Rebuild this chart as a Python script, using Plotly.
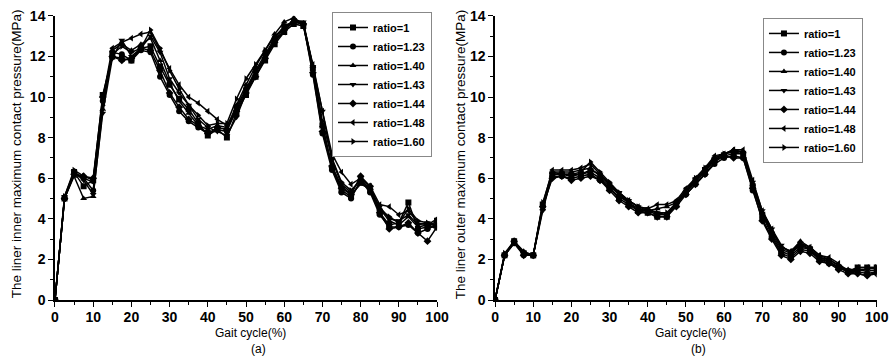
import plotly.graph_objects as go

gait = [0, 2.5, 5, 7.5, 10, 12.5, 15, 17.5, 20, 22.5, 25, 27.5, 30, 32.5, 35, 37.5, 40,
        42.5, 45, 47.5, 50, 52.5, 55, 57.5, 60, 62.5, 65, 67.5, 70, 72.5, 75, 77.5, 80,
        82.5, 85, 87.5, 90, 92.5, 95, 97.5, 100]

names = ["ratio=1", "ratio=1.23", "ratio=1.40", "ratio=1.43", "ratio=1.44", "ratio=1.48", "ratio=1.60"]
symbols = ["square", "circle", "triangle-up", "triangle-down", "diamond", "triangle-left", "triangle-right"]

inner_1 = [0, 5.0, 6.3, 5.6, 5.9, 10.1, 12.0, 11.9, 11.8, 12.4, 12.5, 11.5, 10.6, 9.9, 9.4, 8.7, 8.1, 8.4, 8.0, 9.2, 10.1, 11.0, 11.8, 12.6, 13.2, 13.6, 13.5, 11.4, 8.6, 6.5, 5.4, 5.1, 5.8, 5.4, 4.3, 3.7, 3.8, 4.8, 3.5, 3.6, 3.9]
inner_123 = [0, 5.0, 6.2, 6.0, 5.4, 9.8, 12.2, 12.1, 11.8, 12.3, 12.2, 11.0, 10.1, 9.3, 8.8, 8.5, 8.2, 8.4, 8.3, 9.5, 10.4, 11.3, 12.1, 12.9, 13.5, 13.7, 13.6, 11.1, 8.2, 6.4, 5.3, 5.0, 5.9, 5.3, 4.2, 3.6, 3.6, 3.7, 3.3, 3.5, 3.7]
inner_140 = [0, 5.0, 6.1, 5.0, 5.1, 9.4, 12.3, 12.6, 12.3, 12.6, 12.9, 11.8, 10.7, 9.8, 9.2, 8.6, 8.4, 8.6, 8.5, 9.6, 10.6, 11.5, 12.3, 13.1, 13.7, 13.9, 13.6, 11.5, 8.6, 6.6, 5.6, 5.2, 5.7, 5.5, 4.5, 3.9, 3.7, 4.1, 3.6, 3.7, 3.5]
inner_143 = [0, 5.1, 6.3, 5.9, 5.2, 9.2, 11.9, 12.8, 12.0, 12.4, 13.0, 12.2, 10.9, 10.2, 9.6, 8.9, 8.5, 8.3, 8.1, 9.0, 10.2, 11.2, 11.9, 12.8, 13.4, 13.8, 13.7, 11.5, 9.3, 6.9, 5.7, 5.3, 6.0, 5.4, 4.6, 4.0, 3.9, 4.2, 3.7, 3.8, 3.6]
inner_144 = [0, 5.0, 6.2, 6.1, 6.0, 10.0, 12.0, 11.8, 11.9, 12.4, 12.3, 11.3, 10.2, 9.5, 8.9, 8.6, 8.2, 8.5, 8.4, 9.3, 10.2, 11.0, 11.9, 12.7, 13.3, 13.7, 13.6, 11.2, 8.3, 6.6, 5.5, 5.2, 6.1, 5.6, 4.3, 3.5, 3.6, 3.8, 3.3, 2.9, 3.6]
inner_148 = [0, 5.0, 6.3, 6.0, 5.8, 9.9, 12.4, 12.7, 12.9, 13.1, 13.2, 12.3, 11.4, 10.6, 10.0, 9.7, 9.3, 8.9, 8.6, 9.4, 10.3, 11.2, 12.0, 12.8, 13.2, 13.8, 13.6, 11.6, 9.3, 7.2, 6.3, 5.7, 6.0, 5.6, 4.7, 4.6, 4.2, 4.4, 3.8, 3.7, 4.0]
inner_160 = [0, 5.1, 6.4, 6.1, 5.9, 9.6, 12.1, 12.5, 12.2, 12.4, 13.3, 12.4, 11.3, 10.4, 9.6, 9.1, 8.6, 8.7, 8.7, 9.9, 10.9, 11.6, 12.3, 13.0, 13.4, 13.7, 13.6, 11.5, 8.8, 7.0, 5.8, 5.4, 5.9, 5.5, 4.5, 4.1, 3.8, 4.5, 3.9, 3.8, 3.7]

outer_1 = [0, 2.2, 2.9, 2.3, 2.2, 4.7, 6.2, 6.2, 6.1, 6.2, 6.3, 6.0, 5.5, 5.0, 4.7, 4.4, 4.3, 4.1, 4.1, 4.7, 5.3, 5.9, 6.4, 6.9, 7.1, 7.2, 7.2, 5.6, 4.2, 3.2, 2.4, 2.2, 2.6, 2.5, 2.0, 1.9, 1.6, 1.4, 1.6, 1.6, 1.6]
outer_123 = [0, 2.2, 2.8, 2.2, 2.2, 4.6, 6.1, 6.1, 6.0, 6.1, 6.2, 5.9, 5.5, 5.1, 4.8, 4.4, 4.4, 4.2, 4.2, 4.8, 5.2, 5.7, 6.2, 6.7, 7.0, 7.1, 7.0, 5.4, 4.0, 3.1, 2.3, 2.1, 2.5, 2.4, 2.0, 1.8, 1.6, 1.4, 1.4, 1.3, 1.4]
outer_140 = [0, 2.2, 2.9, 2.4, 2.2, 4.5, 6.3, 6.3, 6.3, 6.4, 6.5, 6.1, 5.6, 5.2, 4.8, 4.5, 4.4, 4.5, 4.6, 4.8, 5.4, 5.9, 6.4, 7.0, 7.2, 7.4, 7.3, 5.7, 4.3, 3.4, 2.6, 2.4, 2.9, 2.6, 2.2, 2.0, 1.7, 1.5, 1.5, 1.4, 1.5]
outer_143 = [0, 2.2, 2.8, 2.3, 2.2, 4.4, 6.2, 6.2, 6.2, 6.2, 6.4, 6.2, 5.7, 5.3, 4.9, 4.6, 4.5, 4.3, 4.2, 4.7, 5.3, 5.8, 6.3, 6.9, 7.2, 7.3, 7.2, 5.8, 4.4, 3.5, 2.7, 2.3, 2.8, 2.5, 2.1, 1.9, 1.6, 1.4, 1.3, 1.2, 1.4]
outer_144 = [0, 2.2, 2.9, 2.2, 2.2, 4.6, 6.0, 6.1, 5.9, 6.0, 6.1, 5.9, 5.4, 4.9, 4.6, 4.3, 4.3, 4.1, 4.1, 4.6, 5.2, 5.7, 6.2, 6.8, 7.1, 7.0, 7.0, 5.5, 3.9, 3.0, 2.2, 2.0, 2.4, 2.3, 1.9, 1.8, 1.5, 1.3, 1.3, 1.2, 1.3]
outer_148 = [0, 2.2, 2.9, 2.3, 2.2, 4.7, 6.4, 6.4, 6.4, 6.5, 6.7, 6.2, 5.7, 5.2, 4.9, 4.6, 4.5, 4.7, 4.7, 4.9, 5.5, 6.0, 6.5, 7.1, 7.2, 7.4, 7.4, 5.9, 4.4, 3.5, 2.6, 2.4, 2.8, 2.6, 2.2, 2.1, 1.8, 1.4, 1.6, 1.6, 1.6]
outer_160 = [0, 2.3, 2.9, 2.3, 2.2, 4.8, 6.3, 6.2, 6.2, 6.3, 6.8, 6.3, 5.8, 5.3, 4.9, 4.6, 4.4, 4.3, 4.3, 4.8, 5.4, 6.0, 6.5, 7.0, 7.2, 7.3, 7.3, 5.7, 4.3, 3.3, 2.5, 2.3, 2.7, 2.5, 2.1, 2.0, 1.7, 1.4, 1.5, 1.5, 1.6]

inner = [inner_1, inner_123, inner_140, inner_143, inner_144, inner_148, inner_160]
outer = [outer_1, outer_123, outer_140, outer_143, outer_144, outer_148, outer_160]

x_ticks = [0, 10, 20, 30, 40, 50, 60, 70, 80, 90, 100]
y_ticks = [0, 2, 4, 6, 8, 10, 12, 14]
x_ticktext = ["<b>%d</b>" % v for v in x_ticks]
y_ticktext = ["<b>%d</b>" % v for v in y_ticks]

fig = go.Figure()
for i in range(7):
    fig.add_trace(go.Scatter(x=gait, y=inner[i], name=names[i], mode="lines+markers",
                             line=dict(color="black", width=1.5),
                             marker=dict(symbol=symbols[i], size=6, color="black"),
                             xaxis="x", yaxis="y", legend="legend"))
for i in range(7):
    fig.add_trace(go.Scatter(x=gait, y=outer[i], name=names[i], mode="lines+markers",
                             line=dict(color="black", width=1.5),
                             marker=dict(symbol=symbols[i], size=6, color="black"),
                             xaxis="x2", yaxis="y2", legend="legend2"))

tickfont = dict(family="Liberation Sans, Arial", size=14, color="black")
axis_common = dict(showline=True, linecolor="black", linewidth=1.5, showgrid=False, zeroline=False,
                   ticks="outside", ticklen=5, tickwidth=1.3, tickcolor="black",
                   tickfont=tickfont, automargin=False)
xminor = dict(dtick=5, ticks="outside", ticklen=3, tickcolor="black", tickwidth=1.2)
yminor = dict(dtick=1, ticks="outside", ticklen=3, tickcolor="black", tickwidth=1.2)

legend_font = dict(family="Liberation Sans Narrow, Arial Narrow, Liberation Sans", size=11,
                   color="black", weight="bold")

fig.update_layout(
    width=891, height=359,
    margin=dict(l=0, r=0, t=0, b=0),
    paper_bgcolor="white", plot_bgcolor="white",
    xaxis=dict(domain=[0.0617, 0.4905], range=[0, 100], tickvals=x_ticks, ticktext=x_ticktext,
               minor=xminor, anchor="y", ticklabelstandoff=-2, **axis_common),
    yaxis=dict(domain=[0.1643, 0.956], range=[0, 14], tickvals=y_ticks, ticktext=y_ticktext,
               minor=yminor, anchor="x", **axis_common),
    xaxis2=dict(domain=[0.5556, 0.984], range=[0, 100], tickvals=x_ticks, ticktext=x_ticktext,
                minor=xminor, anchor="y2", ticklabelstandoff=-2, **axis_common),
    yaxis2=dict(domain=[0.1643, 0.956], range=[0, 14], tickvals=y_ticks, ticktext=y_ticktext,
                minor=yminor, anchor="x2", **axis_common),
    legend=dict(x=0.3726, y=0.9666, xanchor="left", yanchor="top",
                bordercolor="#888888", borderwidth=1, bgcolor="white",
                font=legend_font, itemwidth=30, tracegroupgap=0),
    legend2=dict(x=0.8563, y=0.95, xanchor="left", yanchor="top",
                 bordercolor="#888888", borderwidth=1, bgcolor="white",
                 font=legend_font, itemwidth=30, tracegroupgap=0),
    showlegend=True,
)

annots = [
    dict(text="The liner inner maximum contact pressure(MPa)", x=16 / 891, y=0.57, textangle=-90),
    dict(text="The liner outer maximum contact pressure(MPa)", x=460 / 891, y=0.57, textangle=-90),
    dict(text="Gait cycle(%)", x=250 / 891, y=1 - 333 / 359),
    dict(text="Gait cycle(%)", x=690 / 891, y=1 - 333 / 359),
    dict(text="(a)", x=258 / 891, y=1 - 349 / 359),
    dict(text="(b)", x=698 / 891, y=1 - 349 / 359),
]
for a in annots:
    is_title = a["text"].startswith("The")
    fig.add_annotation(text=a["text"], x=a["x"], y=a["y"], xref="paper", yref="paper",
                       showarrow=False, textangle=a.get("textangle", 0),
                       xanchor="center", yanchor="middle",
                       font=dict(family="Liberation Sans" if is_title else "Liberation Sans Narrow, Arial Narrow, Liberation Sans",
                                 size=13.5 if is_title else 12, color="black"))

fig.write_html("out.html")
